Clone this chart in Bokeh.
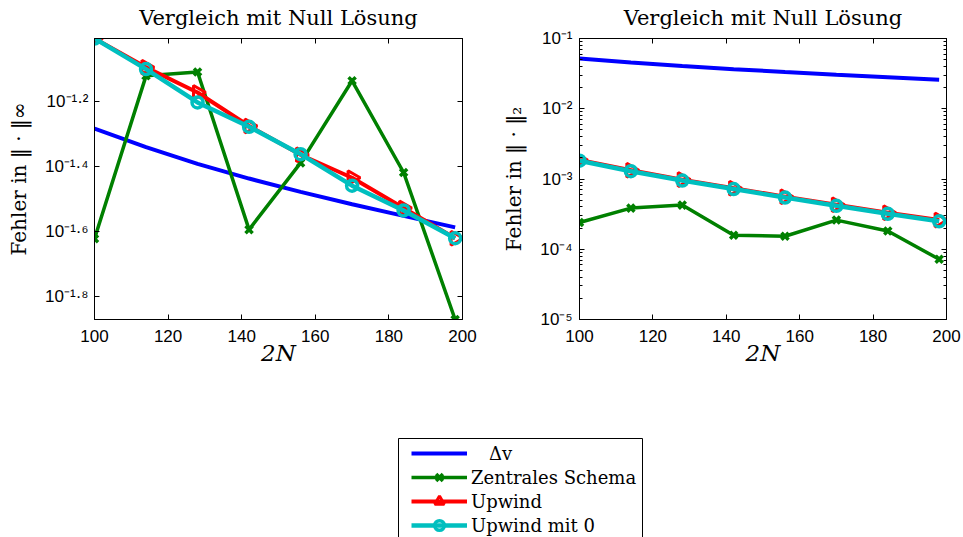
import numpy as np
from bokeh.plotting import figure
from bokeh.layouts import column, row
from bokeh.models import (FixedTicker, LinearAxis, LogAxis, Legend, LegendItem,
                          CustomJSTickFormatter, Range1d, BoxAnnotation)
from bokeh.embed import file_html
from bokeh.resources import INLINE

# ---------------- data ----------------
N2 = [100, 114, 128, 142, 156, 170, 184, 198]

# left panel: error in ||.||_inf
DV_INF = [0.0521, 0.0457, 0.0406, 0.0366, 0.0333, 0.0305, 0.0281, 0.0259]
ZENTRAL_INF = [0.0239, 0.0757, 0.0778, 0.0255, 0.0409, 0.0731, 0.0382, 0.0135]
UPWIND_INF = [0.0986, 0.0804, 0.0673, 0.0531, 0.0433, 0.0368, 0.0297, 0.0240]
UPWIND0_INF = [0.0986, 0.0794, 0.0627, 0.0528, 0.0435, 0.0348, 0.0292, 0.0240]

# right panel: error in ||.||_2
DV_2 = [0.0518, 0.0457, 0.0406, 0.0366, 0.0333, 0.0305, 0.0281, 0.0259]
ZENTRAL_2 = [2.4e-4, 3.85e-4, 4.25e-4, 1.58e-4, 1.53e-4, 2.6e-4, 1.82e-4, 7.2e-5]
UPWIND_2 = [1.86e-3, 1.33e-3, 9.8e-4, 7.4e-4, 5.6e-4, 4.3e-4, 3.3e-4, 2.6e-4]
UPWIND0_2 = [1.82e-3, 1.29e-3, 9.5e-4, 7.2e-4, 5.45e-4, 4.15e-4, 3.2e-4, 2.5e-4]

X_TICKS = [100, 120, 140, 160, 180, 200]
X_LIMITS = (100, 200)
Y_EXP_INF = [-1.8, -1.6, -1.4, -1.2]
Y_EXP_2 = [-5, -4, -3, -2, -1]
Y2_LIMITS = (1e-5, 1e-1)

TITLE = "Vergleich mit Null Lösung"
XLABEL = "2N"
YLABEL_INF = "Fehler in ‖ · ‖∞"
YLABEL_2 = "Fehler in ‖ · ‖₂"
LEGEND_LABELS = ["\u2003Δv", "Zentrales Schema", "Upwind", "Upwind mit 0"]

BLUE, GREEN, RED, CYAN = "#0000ff", "#008000", "#ff0000", "#00bfbf"
SERIF = "DejaVu Serif"
SANS = "Liberation Sans"

POW10 = CustomJSTickFormatter(code="""
const sup = {"-": "\\u207b", "0": "\\u2070", "1": "\\u00b9", "2": "\\u00b2",
             "3": "\\u00b3", "4": "\\u2074", "5": "\\u2075", "6": "\\u2076",
             "7": "\\u2077", "8": "\\u2078", "9": "\\u2079", ".": "\\u00b7"};
const e = Math.round(Math.log10(tick) * 10) / 10;
return "10" + String(e).split("").map(c => sup[c]).join("");
""")
BLANK = CustomJSTickFormatter(code="return '';")


def style_axis(ax, ticker, formatter, standoff):
    ax.ticker = ticker
    ax.formatter = formatter
    ax.major_tick_in = 5
    ax.major_tick_out = 0
    ax.minor_tick_in = 3
    ax.minor_tick_out = 0
    ax.major_tick_line_color = "black"
    ax.minor_tick_line_color = "black"
    ax.axis_line_color = "black"
    ax.major_label_standoff = standoff
    ax.major_label_text_font = SANS
    ax.major_label_text_font_size = "17px"
    ax.major_label_text_color = "black"


def style_label(ax, text, size, style, standoff):
    ax.axis_label = text
    ax.axis_label_text_font = SERIF
    ax.axis_label_text_font_size = size
    ax.axis_label_text_font_style = style
    ax.axis_label_text_color = "black"
    ax.axis_label_standoff = standoff


def add_series(p, dv, zen, up, up0):
    rs = {}
    rs["dv"] = p.line(N2, dv, line_color=BLUE, line_width=4)
    rs["zl"] = p.line(N2, zen, line_color=GREEN, line_width=3.5, line_join="round")
    rs["zm"] = p.scatter(N2, zen, marker="x", size=10, line_color=GREEN, line_width=3.5)
    rs["ul"] = p.line(N2, up, line_color=RED, line_width=4, line_join="round")
    rs["um"] = p.scatter(x=N2, y=up, angle=[-np.pi / 2] * len(N2), marker="triangle",
                         size=14, line_color=RED, line_width=3, fill_alpha=0)
    rs["cl"] = p.line(N2, up0, line_color=CYAN, line_width=4.5, line_join="round")
    rs["cm"] = p.scatter(N2, up0, marker="circle", size=11, line_color=CYAN,
                         line_width=3.5, fill_alpha=0)
    return rs


def make_panel(width, left, right, ylo, yhi, yticks, yminor, ylabel,
               ystandoff, ylab_standoff):
    p = figure(width=width, height=373, x_range=Range1d(*X_LIMITS),
               y_range=Range1d(ylo, yhi), y_axis_type="log",
               output_backend="svg", toolbar_location=None,
               min_border_left=left, min_border_right=right,
               min_border_top=38, min_border_bottom=54)
    p.title.visible = False
    p.xgrid.visible = False
    p.ygrid.visible = False
    p.outline_line_color = "black"
    p.outline_line_alpha = 1.0
    p.background_fill_color = "white"
    p.border_fill_color = "white"

    style_axis(p.xaxis[0], FixedTicker(ticks=X_TICKS), p.xaxis[0].formatter, 10)
    style_label(p.xaxis[0], XLABEL, "23px", "italic", -5)
    style_axis(p.yaxis[0], FixedTicker(ticks=yticks, minor_ticks=yminor), POW10,
               ystandoff)
    style_label(p.yaxis[0], ylabel, "20px", "normal", ylab_standoff)

    top = LinearAxis()
    style_axis(top, FixedTicker(ticks=X_TICKS), BLANK, 0)
    style_label(top, TITLE, "21px", "normal", 9)
    p.add_layout(top, "above")
    rgt = LogAxis()
    style_axis(rgt, FixedTicker(ticks=yticks, minor_ticks=yminor), BLANK, 0)
    p.add_layout(rgt, "right")
    return p


# left panel (axis tight around the data)
all_inf = DV_INF + ZENTRAL_INF + UPWIND_INF + UPWIND0_INF
p1 = make_panel(480, 94, 18, min(all_inf), max(all_inf),
                [10.0 ** e for e in Y_EXP_INF], [], YLABEL_INF, 6, 11)
add_series(p1, DV_INF, ZENTRAL_INF, UPWIND_INF, UPWIND0_INF)

# right panel
minor2 = [m * 10.0 ** e for e in Y_EXP_2[:-1] for m in range(2, 10)]
p2 = make_panel(483, 99, 17, Y2_LIMITS[0], Y2_LIMITS[1],
                [10.0 ** e for e in Y_EXP_2], minor2, YLABEL_2, 7, 11)
add_series(p2, DV_2, ZENTRAL_2, UPWIND_2, UPWIND0_2)

# legend panel
p3 = figure(width=963, height=164, x_range=Range1d(0, 963), y_range=Range1d(0, 164),
            output_backend="svg", toolbar_location=None, min_border=0,
            x_axis_location=None, y_axis_location=None)
p3.title.visible = False
p3.grid.visible = False
p3.outline_line_color = None
rs3 = add_series(p3, DV_INF, ZENTRAL_INF, UPWIND_INF, UPWIND0_INF)
for r in rs3.values():
    r.visible = False
p3.add_layout(BoxAnnotation(left=398, right=642, top=99, bottom=-5,
                            fill_color="white", fill_alpha=1.0,
                            line_color="black", line_width=1, line_alpha=1.0))
items = [
    LegendItem(label=LEGEND_LABELS[0], renderers=[rs3["dv"]], index=0),
    LegendItem(label=LEGEND_LABELS[1], renderers=[rs3["zl"], rs3["zm"]], index=0),
    LegendItem(label=LEGEND_LABELS[2], renderers=[rs3["ul"], rs3["um"]], index=0),
    LegendItem(label=LEGEND_LABELS[3], renderers=[rs3["cl"], rs3["cm"]], index=0),
]
leg = Legend(items=items, location=(411, 0), padding=0, margin=0, spacing=0,
             glyph_width=56, glyph_height=24, label_height=24, label_standoff=4,
             label_text_font=SERIF, label_text_font_size="18px",
             label_text_color="black", border_line_color=None,
             background_fill_alpha=0)
p3.add_layout(leg, "center")

layout = column(row(p1, p2), p3)
open("out.html", "w").write(file_html(layout, INLINE))
